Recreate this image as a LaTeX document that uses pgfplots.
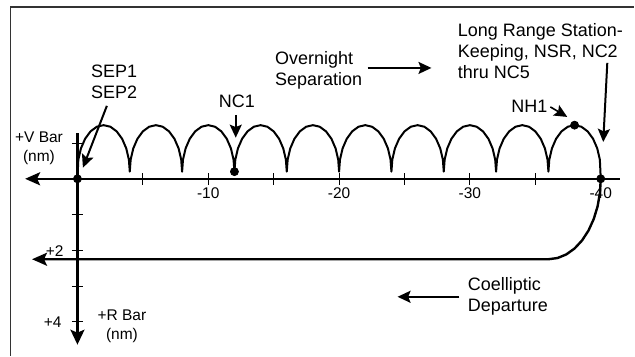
\documentclass[border=0pt]{standalone}
\usepackage{pgfplots}
\pgfplotsset{compat=1.18}
\usepackage{fontspec}
\setmainfont{Liberation Sans}
\usetikzlibrary{arrows.meta}

\begin{document}
\begin{tikzpicture}[
  note/.style={font=\fontsize{9}{10.5}\selectfont, inner sep=0pt},
  small/.style={font=\fontsize{7.75}{9.5}\selectfont, inner sep=0pt},
  pointer/.style={line width=1pt, -{Stealth[length=6.5pt,width=6pt,inset=1.2pt]}},
]
\begin{axis}[
  scale only axis, width=317.5pt, height=178pt,
  x dir=reverse,
  xmin=-42.56, xmax=5.92, ymin=-4.944, ymax=5.0,
  hide axis, clip=false,
]
% keep the whole canvas as bounding box
\path (axis cs:5.92,-4.944) rectangle (axis cs:-42.56,5.0);
% frame (left and top edges only show)
\draw[line width=0.75pt, black!80] (axis cs:5.11,-4.944) -- (axis cs:5.11,4.80) -- (axis cs:-42.56,4.80);

% V-bar axis (horizontal) and R-bar axis (vertical)
\addplot[line width=1.2pt, -{Stealth[length=7.5pt,width=6.5pt,inset=1.5pt]}]
  coordinates {(-41.45,0) (4.0,0)};
\addplot[line width=1.2pt, -{Stealth[length=7.5pt,width=7pt,inset=1.5pt]}]
  coordinates {(0,1.28) (0,-4.64)};

% ticks
\pgfplotsinvokeforeach{-5,-10,-15,-20,-25,-30,-35,-40}{
  \draw[line width=0.5pt] ([yshift=-3pt]axis cs:#1,0) -- ([yshift=3pt]axis cs:#1,0);
}
\pgfplotsinvokeforeach{1,-1,-2,-3,-4}{
  \draw[line width=0.5pt] ([xshift=-2.75pt]axis cs:0,#1) -- ([xshift=2.75pt]axis cs:0,#1);
}
\node[small] at (axis cs:-10,-0.39) {-10};
\node[small] at (axis cs:-20,-0.39) {-20};
\node[small] at (axis cs:-30,-0.39) {-30};
\node[small] at (axis cs:-40,-0.39) {-40};
\node[small, anchor=east] at (axis cs:1.03,-2.01) {+2};
\node[small, anchor=east] at (axis cs:1.18,-4.0) {+4};
\node[small, align=center] at (axis cs:2.94,0.85) {+V Bar\\(nm)};
\node[small, align=center] at (axis cs:-3.40,-4.13) {+R Bar\\(nm)};

% overnight separation hops
\addplot[line width=1pt, line join=round] coordinates {
 (0,0) (-0.068,0.536) (-0.268,0.85) (-0.586,1.119) (-1,1.326) (-1.482,1.456) (-2,1.5) (-2.518,1.456) (-3,1.326) (-3.414,1.119) (-3.732,0.85) (-3.932,0.536) (-4,0.2)
 (-4.068,0.536) (-4.268,0.85) (-4.586,1.119) (-5,1.326) (-5.482,1.456) (-6,1.5) (-6.518,1.456) (-7,1.326) (-7.414,1.119) (-7.732,0.85) (-7.932,0.536) (-8,0.2)
 (-8.068,0.536) (-8.268,0.85) (-8.586,1.119) (-9,1.326) (-9.482,1.456) (-10,1.5) (-10.518,1.456) (-11,1.326) (-11.414,1.119) (-11.732,0.85) (-11.932,0.536) (-12,0.2)
 (-12.068,0.536) (-12.268,0.85) (-12.586,1.119) (-13,1.326) (-13.482,1.456) (-14,1.5) (-14.518,1.456) (-15,1.326) (-15.414,1.119) (-15.732,0.85) (-15.932,0.536) (-16,0.2)
 (-16.068,0.536) (-16.268,0.85) (-16.586,1.119) (-17,1.326) (-17.482,1.456) (-18,1.5) (-18.518,1.456) (-19,1.326) (-19.414,1.119) (-19.732,0.85) (-19.932,0.536) (-20,0.2)
 (-20.068,0.536) (-20.268,0.85) (-20.586,1.119) (-21,1.326) (-21.482,1.456) (-22,1.5) (-22.518,1.456) (-23,1.326) (-23.414,1.119) (-23.732,0.85) (-23.932,0.536) (-24,0.2)
 (-24.068,0.536) (-24.268,0.85) (-24.586,1.119) (-25,1.326) (-25.482,1.456) (-26,1.5) (-26.518,1.456) (-27,1.326) (-27.414,1.119) (-27.732,0.85) (-27.932,0.536) (-28,0.2)
 (-28.068,0.536) (-28.268,0.85) (-28.586,1.119) (-29,1.326) (-29.482,1.456) (-30,1.5) (-30.518,1.456) (-31,1.326) (-31.414,1.119) (-31.732,0.85) (-31.932,0.536) (-32,0.2)
 (-32.068,0.536) (-32.268,0.85) (-32.586,1.119) (-33,1.326) (-33.482,1.456) (-34,1.5) (-34.518,1.456) (-35,1.326) (-35.414,1.119) (-35.732,0.85) (-35.932,0.536) (-36,0.2)
 (-36.068,0.536) (-36.268,0.85) (-36.586,1.119) (-37,1.326) (-37.482,1.456) (-38,1.5) (-38.518,1.456) (-39,1.326) (-39.414,1.119) (-39.732,0.85) (-39.932,0.536) (-40,0)
};

% coelliptic departure
\addplot[line width=1.2pt, line join=round, -{Stealth[length=7.5pt,width=6.5pt,inset=1.5pt]}] coordinates {
 (-40,0) (-39.94,-0.391) (-39.76,-0.770) (-39.464,-1.125) (-39.064,-1.447) (-38.572,-1.724)
 (-38,-1.949) (-37.368,-2.115) (-36.696,-2.216) (-36,-2.25) (3.47,-2.25)
};

% burn points
\addplot[only marks, mark=*, mark size=2pt] coordinates {(0,0) (-12,0.2) (-38,1.5) (-40,0)};

% annotations
\node[note, align=center] at (axis cs:-2.8,2.72) {SEP1\\SEP2};
\draw[pointer] (axis cs:-2.25,2.04) -- (axis cs:-0.42,0.31);
\node[note] at (axis cs:-12.18,2.18) {NC1};
\draw[pointer] (axis cs:-12.1,1.79) -- (axis cs:-12.1,1.15);
\node[note, anchor=west, align=left] at (axis cs:-15.08,3.03) {Overnight\\Separation};
\draw[pointer] (axis cs:-22.18,3.10) -- (axis cs:-27.06,3.10);
\node[note, anchor=west, align=left] at (axis cs:-29.05,3.58) {Long Range Station-\\Keeping, NSR, NC2\\thru NC5};
\draw[pointer] (axis cs:-40.5,3.24) -- (axis cs:-40.19,1.03);
\node[note] at (axis cs:-34.54,2.04) {NH1};
\draw[pointer, line width=0.8pt] (axis cs:-36.15,2.01) -- (axis cs:-37.44,1.73);
\node[note, anchor=west, align=left] at (axis cs:-29.81,-3.30) {Coelliptic\\Departure};
\draw[pointer] (axis cs:-29.2,-3.30) -- (axis cs:-24.47,-3.30);
\end{axis}
\end{tikzpicture}
\end{document}
